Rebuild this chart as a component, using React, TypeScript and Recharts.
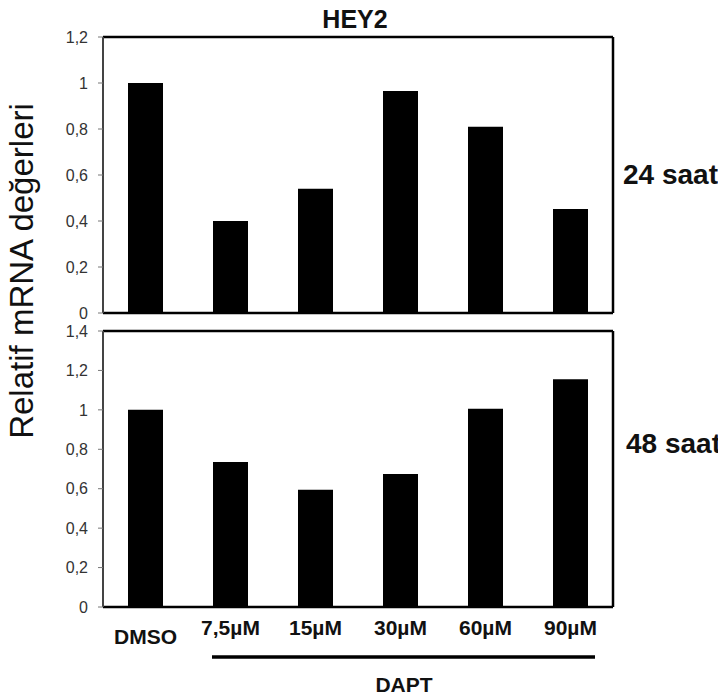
import React from "react";
import { BarChart, Bar, XAxis, YAxis, CartesianGrid, ReferenceLine } from "recharts";

const categories = ["DMSO", "7,5µM", "15µM", "30µM", "60µM", "90µM"];
const values24h = [1.0, 0.4, 0.54, 0.965, 0.81, 0.452];
const values48h = [1.0, 0.735, 0.595, 0.675, 1.005, 1.155];
const ticks24h = [0, 0.2, 0.4, 0.6, 0.8, 1, 1.2];
const ticks48h = [0, 0.2, 0.4, 0.6, 0.8, 1, 1.2, 1.4];
const title = "HEY2";
const yLabel = "Relatif mRNA değerleri";
const label24 = "24 saat";
const label48 = "48 saat";
const groupLabel = "DAPT";

const data24 = categories.map((c, i) => ({ name: c, value: values24h[i] }));
const data48 = categories.map((c, i) => ({ name: c, value: values48h[i] }));

const FONT = "'Liberation Sans', Arial, sans-serif";
const fmt = (v: number) => String(v).replace(".", ",");

const XTick = (props: any) => {
  const { x, y, payload, index } = props;
  const dy = index === 0 ? 37 : 28;
  return (
    <text x={x} y={y + dy} textAnchor="middle" fontFamily={FONT} fontWeight="bold" fontSize={21} fill="#111">
      {payload.value}
    </text>
  );
};

const yTickStyle = { fontSize: 16, fill: "#333", fontFamily: FONT };

export default function App() {
  return (
    <div style={{ position: "relative", width: 726, height: 700, margin: -8, background: "#fff", overflow: "hidden" }}>
      <div style={{ position: "absolute", left: 0, top: 0 }}>
        <BarChart width={726} height={330} data={data24} margin={{ top: 37, right: 112, bottom: 17, left: 63 }}>
          <CartesianGrid vertical={false} stroke="#a8a8a8" strokeWidth={1.2} />
          <XAxis dataKey="name" hide />
          <YAxis
            yAxisId="left"
            width={40}
            domain={[0, 1.2]}
            ticks={ticks24h}
            tickFormatter={fmt}
            tick={yTickStyle}
            tickSize={5}
            tickMargin={10}
            tickLine={{ stroke: "#777" }}
            axisLine={{ stroke: "#444", strokeWidth: 2 }}
            interval={0}
          />
          <YAxis yAxisId="right" orientation="right" width={1} domain={[0, 1.2]} tick={false} tickLine={false} axisLine={{ stroke: "#000", strokeWidth: 2.5 }} />
          <ReferenceLine yAxisId="left" y={1.2} stroke="#000" strokeWidth={2.5} />
          <ReferenceLine yAxisId="left" y={0} stroke="#000" strokeWidth={2.5} />
          <Bar yAxisId="left" dataKey="value" fill="#000" barSize={35} isAnimationActive={false} />
        </BarChart>
      </div>
      <div style={{ position: "absolute", left: 0, top: 320 }}>
        <BarChart width={726} height={380} data={data48} margin={{ top: 11, right: 112, bottom: 0, left: 63 }}>
          <CartesianGrid vertical={false} stroke="#a8a8a8" strokeWidth={1.2} />
          <XAxis
            dataKey="name"
            height={93}
            interval={0}
            tick={<XTick />}
            tickLine={false}
            tickSize={0}
            tickMargin={0}
            axisLine={{ stroke: "#000", strokeWidth: 2.5 }}
          />
          <YAxis
            yAxisId="left"
            width={40}
            domain={[0, 1.4]}
            ticks={ticks48h}
            tickFormatter={fmt}
            tick={yTickStyle}
            tickSize={5}
            tickMargin={10}
            tickLine={{ stroke: "#777" }}
            axisLine={{ stroke: "#444", strokeWidth: 2 }}
            interval={0}
          />
          <YAxis yAxisId="right" orientation="right" width={1} domain={[0, 1.4]} tick={false} tickLine={false} axisLine={{ stroke: "#000", strokeWidth: 2.5 }} />
          <ReferenceLine yAxisId="left" y={1.4} stroke="#000" strokeWidth={2.5} />
          <Bar yAxisId="left" dataKey="value" fill="#000" barSize={35} isAnimationActive={false} />
        </BarChart>
      </div>
      <svg width={726} height={700} style={{ position: "absolute", left: 0, top: 0, pointerEvents: "none" }}>
        <text x={355} y={28} textAnchor="middle" fontFamily={FONT} fontWeight="bold" fontSize={25} fill="#111">{title}</text>
        <text x={623} y={184} fontFamily={FONT} fontWeight="bold" fontSize={28} fill="#111">{label24}</text>
        <text x={626} y={453} fontFamily={FONT} fontWeight="bold" fontSize={28} fill="#111">{label48}</text>
        <text x={33} y={271} transform="rotate(-90, 33, 271)" textAnchor="middle" fontFamily={FONT} fontSize={33} fill="#111">{yLabel}</text>
        <line x1={212} y1={657} x2={595} y2={657} stroke="#000" strokeWidth={3.5} />
        <text x={404} y={692} textAnchor="middle" fontFamily={FONT} fontWeight="bold" fontSize={21} fill="#111">{groupLabel}</text>
      </svg>
    </div>
  );
}
